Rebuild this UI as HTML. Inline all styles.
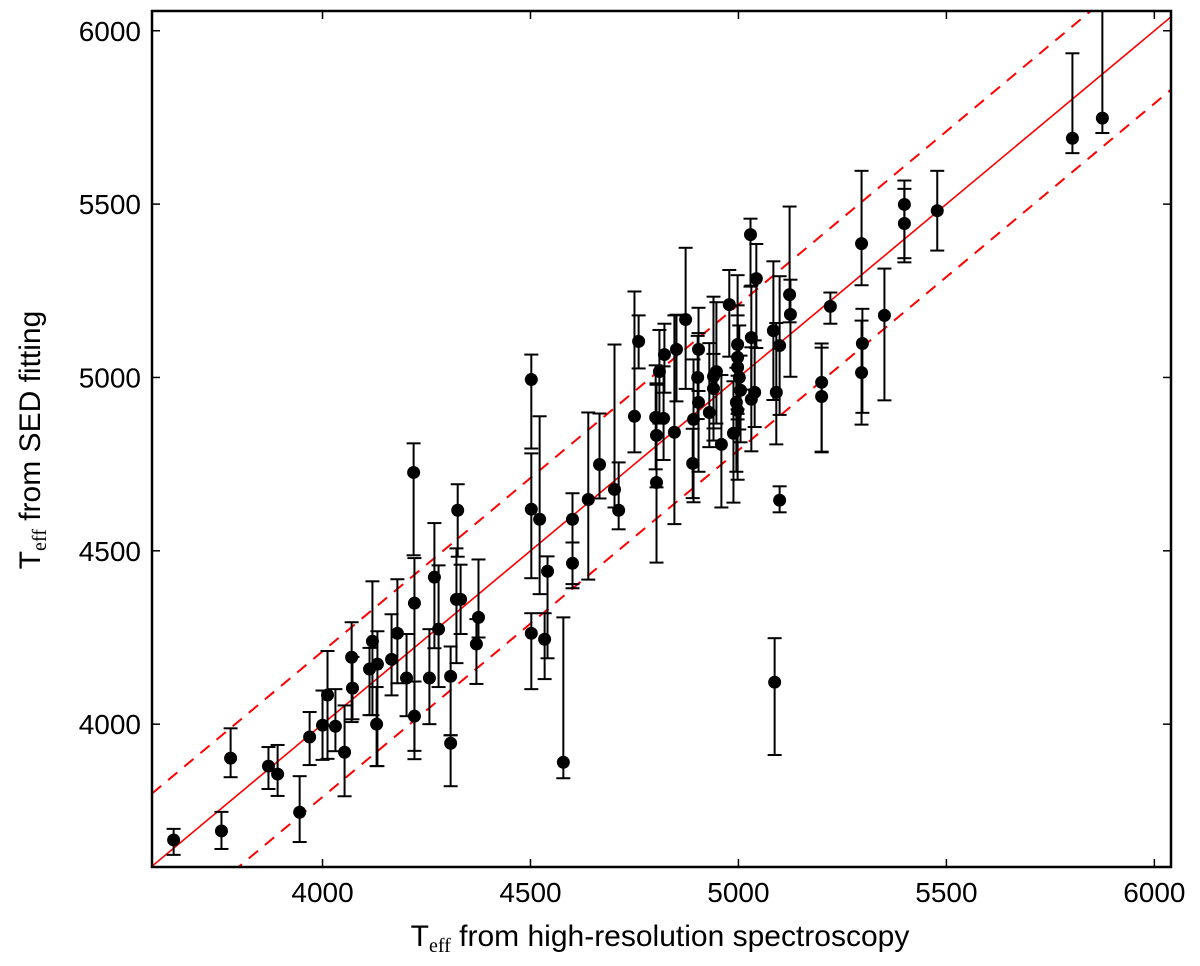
<!DOCTYPE html>
<html><head><meta charset="utf-8"><style>
html,body{margin:0;padding:0;background:#fff;}
svg{display:block;font-family:"Liberation Sans",sans-serif;}
</style></head><body>
<svg id="chart" width="1200" height="966" viewBox="0 0 1200 966">
<g id="marks"></g>
<g id="axes"></g>
</svg>
<script>
const xTicks = [4000, 4500, 5000, 5500, 6000];
const yTicks = [4000, 4500, 5000, 5500, 6000];
const xSpec = [3642,3757,3779,3870,3892,3945,3969,4000,4012,4031,4053,4070,4072,4113,4120,4132,4130,4166,4180,4202,4219,4221,4221,4257,4269,4279,4308,4308,4325,4322,4332,4370,4375,4502,4502,4522,4541,4534,4502,4601,4601,4639,4666,4702,4712,4760,4750,4803,4803,4801,4820,4810,4822,4846,4851,4873,4892,4890,4904,4902,4904,4930,4940,4947,4940,4959,4978,4998,4998,4998,5002,5005,4995,4998,4988,5029,5043,5031,5039,5031,5084,5099,5091,5099,5123,5125,5087,5200,5200,5221,5296,5298,5296,5351,5399,5399,5478,5803,5875,4579];
const ySed = [3666,3692,3902,3879,3856,3746,3963,3997,4084,3994,3919,4193,4104,4159,4239,4173,4000,4187,4262,4133,4726,4349,4023,4133,4424,4274,4138,3945,4617,4360,4360,4231,4308,4994,4620,4591,4441,4245,4262,4591,4464,4648,4749,4677,4617,5104,4888,4697,4833,4885,4882,5017,5066,4842,5081,5167,4879,4752,5081,5000,4928,4899,5003,5017,4968,4807,5210,5095,5058,5029,5000,4963,4928,4905,4839,5412,5285,5115,4957,4937,5135,5092,4957,4646,5239,5182,4121,4986,4945,5205,5386,5098,5014,5179,5499,5444,5481,5690,5748,3890];
const errUp = [32,55,86,55,84,104,72,100,127,107,135,101,90,61,173,95,107,130,156,127,84,130,100,141,156,184,86,23,75,147,100,72,167,72,161,297,43,75,58,75,60,251,147,418,138,75,360,282,150,150,150,120,89,337,100,207,173,100,120,120,200,200,230,200,100,200,100,200,150,150,150,100,100,100,150,46,100,150,150,150,200,200,200,40,254,100,127,100,153,40,210,100,150,135,69,100,115,245,600,418];
const errDn = [43,52,55,66,63,86,81,100,184,72,127,187,90,133,213,294,121,104,144,110,239,450,100,133,205,167,170,124,134,184,100,115,58,199,199,216,251,115,161,199,60,231,98,52,55,78,104,231,150,150,120,150,110,265,150,200,239,100,120,120,200,100,150,150,150,182,150,200,150,150,150,150,200,200,200,150,200,150,100,150,200,200,150,35,80,180,210,200,161,50,120,200,150,245,167,100,115,43,43,46];
const bandOffset = 210;

const L=152,R=1171,T=11,B=867, X0=3590,X1=6040, Y0=3588,Y1=6057;
const sx=v=>L+(v-X0)/(X1-X0)*(R-L);
const sy=v=>B-(v-Y0)/(Y1-Y0)*(B-T);
const NS="http://www.w3.org/2000/svg";
function mk(tag,attrs,parent){const e=document.createElementNS(NS,tag);for(const k in attrs)e.setAttribute(k,attrs[k]);parent.appendChild(e);return e;}
const marks=document.getElementById('marks');
const axes=document.getElementById('axes');
const clip=mk('clipPath',{id:'pc'},marks);mk('rect',{x:L,y:T,width:R-L,height:B-T},clip);
const inner=mk('g',{'clip-path':'url(#pc)'},marks);

const ln=mk('line',{x1:sx(X0),y1:sy(X0),x2:sx(X1),y2:sy(X1),stroke:'#ff0000','stroke-width':1.6},inner);


[bandOffset,-bandOffset].forEach((o,i)=>{
  const d=mk('line',{x1:sx(X0),y1:sy(X0+o),x2:sx(X1),y2:sy(X1+o),stroke:'#ff0000','stroke-width':2,'stroke-dasharray':'12 9'},inner);
  
  
});

for(let i=0;i<xSpec.length;i++){
  const g=mk('g',{},inner);
  
  
  const x=sx(xSpec[i]), yt=sy(ySed[i]+errUp[i]), yb=sy(ySed[i]-errDn[i]);
  mk('line',{x1:x,y1:yt,x2:x,y2:yb,stroke:'#000','stroke-width':2},g);
  mk('line',{x1:x-7,y1:yt,x2:x+7,y2:yt,stroke:'#000','stroke-width':2},g);
  mk('line',{x1:x-7,y1:yb,x2:x+7,y2:yb,stroke:'#000','stroke-width':2},g);
  mk('circle',{cx:x,cy:sy(ySed[i]),r:6.5,fill:'#000'},g);
}

const fr=mk('rect',{x:L,y:T,width:R-L,height:B-T,fill:'none',stroke:'#000','stroke-width':2.5},axes);


xTicks.forEach(v=>{
  const x=sx(v);
  mk('line',{x1:x,y1:B,x2:x,y2:B-8,stroke:'#000','stroke-width':1.5},axes);
  mk('line',{x1:x,y1:T,x2:x,y2:T+8,stroke:'#000','stroke-width':1.5},axes);
  const t=mk('text',{x:x,y:B+35,'text-anchor':'middle','font-size':28,fill:'#000'},axes);
  t.textContent=v;
  
  
});
yTicks.forEach(v=>{
  const y=sy(v);
  mk('line',{x1:L,y1:y,x2:L+8,y2:y,stroke:'#000','stroke-width':1.5},axes);
  mk('line',{x1:R,y1:y,x2:R-8,y2:y,stroke:'#000','stroke-width':1.5},axes);
  const t=mk('text',{x:L-11,y:y+10,'text-anchor':'end','font-size':28,fill:'#000'},axes);
  t.textContent=v;
  
  
});
</script>
<svg style="position:absolute;left:0;top:0" width="1200" height="966">
<text x="660" y="946" text-anchor="middle" font-size="30" font-family="Liberation Sans, sans-serif">T<tspan font-size="20" dy="6" font-family="Liberation Serif, serif">eff</tspan><tspan dy="-6"> from high-resolution spectroscopy</tspan></text>
<text transform="translate(40,440) rotate(-90)" text-anchor="middle" font-size="30" font-family="Liberation Sans, sans-serif">T<tspan font-size="20" dy="6" font-family="Liberation Serif, serif">eff</tspan><tspan dy="-6"> from SED fitting</tspan></text>
</svg>
</body></html>
